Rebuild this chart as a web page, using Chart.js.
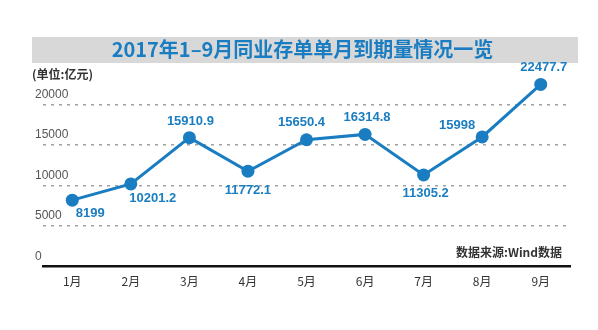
<!DOCTYPE html>
<html>
<head>
<meta charset="utf-8">
<script src="https://cdn.jsdelivr.net/npm/chart.js@4"></script>
<style>
  html, body { margin: 0; padding: 0; background: #fff; }
  #wrap { width: 598px; height: 330px; }
</style>
</head>
<body>
<div id="wrap"><canvas id="grafico" width="598" height="330"></canvas></div>
<script>
// datos del gráfico
const meses = ['1月', '2月', '3月', '4月', '5月', '6月', '7月', '8月', '9月'];
const vencimientos = [8199, 10201.2, 15910.9, 11772.1, 15650.4, 16314.8, 11305.2, 15998, 22477.7];
const etiquetas = ['8199', '10201.2', '15910.9', '11772.1', '15650.4', '16314.8', '11305.2', '15998', '22477.7'];
const marcasY = [0, 5000, 10000, 15000, 20000];

// dónde va cada etiqueta respecto a su punto (dx, dy)
const desplazamientos = [[18, 13], [22, 14], [1, -16], [0, 19], [-5, -17], [2, -17], [2, 18], [-25, -12], [3, -17]];

const azul = '#1a7dc1';

// fondo gris del título + textos sueltos (unidad, eje y, fuente)
const decoracion = {
    id: 'decoracion',
    beforeDraw(chart) {
        const ctx = chart.ctx;
        ctx.save();
        ctx.fillStyle = '#d8d8d8';
        ctx.fillRect(32, 37, 546, 26);
        ctx.restore();
    },
    afterDraw(chart) {
        const ctx = chart.ctx;
        const y = chart.scales.y;
        ctx.save();
        ctx.fillStyle = '#333';
        ctx.font = 'bold 12px "Noto Sans CJK SC", sans-serif';
        ctx.textBaseline = 'middle';
        ctx.textAlign = 'left';
        ctx.fillText('(单位:亿元)', 32, 74);

        // etiquetas del eje y, un poco por encima de cada línea
        ctx.fillStyle = '#555';
        ctx.font = '12px "Liberation Sans", Arial, sans-serif';
        marcasY.forEach(v => {
            ctx.fillText(String(v), 35, y.getPixelForValue(v) - 10);
        });

        ctx.fillStyle = '#333';
        ctx.font = 'bold 12px "Noto Sans CJK SC", sans-serif';
        ctx.textAlign = 'right';
        ctx.fillText('数据来源:Wind数据', 562, 252);

        // etiquetas de valores
        const meta = chart.getDatasetMeta(0);
        ctx.fillStyle = azul;
        ctx.font = 'bold 13px "Liberation Sans", Arial, sans-serif';
        ctx.textAlign = 'center';
        meta.data.forEach((p, i) => {
            const d = desplazamientos[i];
            ctx.fillText(etiquetas[i], p.x + d[0], p.y + d[1]);
        });
        ctx.restore();
    }
};

new Chart(document.getElementById('grafico'), {
    type: 'line',
    data: {
        labels: meses,
        datasets: [{
            data: vencimientos,
            borderColor: azul,
            backgroundColor: azul,
            borderWidth: 3,
            pointRadius: 6.5,
            pointBorderWidth: 0,
            pointBackgroundColor: azul,
            tension: 0
        }]
    },
    options: {
        responsive: false,
        animation: false,
        layout: { padding: { left: 35, right: 28, top: 0, bottom: 41 } },
        plugins: {
            legend: { display: false },
            tooltip: { enabled: false },
            title: {
                display: true,
                text: '2017年1–9月同业存单单月到期量情况一览',
                color: azul,
                font: { family: '"Noto Sans CJK SC", sans-serif', size: 20, weight: 'bold' },
                padding: { top: 37, bottom: 3 }
            }
        },
        scales: {
            x: {
                offset: true,
                grid: { display: false },
                border: { display: true, color: '#111', width: 2.5 },
                ticks: {
                    color: '#333',
                    padding: 0,
                    font: { family: '"Noto Sans CJK SC", sans-serif', size: 12 }
                }
            },
            y: {
                min: 0,
                max: 25000,
                afterBuildTicks(scale) {
                    scale.ticks = marcasY.map(v => ({ value: v }));
                },
                afterFit(scale) { scale.width = 8; },
                grid: {
                    drawTicks: false,
                    lineWidth: 1.5,
                    color: ctx => (ctx.tick && ctx.tick.value === 0) ? 'rgba(0,0,0,0)' : '#a0a0a0'
                },
                border: { display: false, dash: [3, 5] },
                ticks: { display: false }
            }
        }
    },
    plugins: [decoracion]
});
</script>
</body>
</html>
